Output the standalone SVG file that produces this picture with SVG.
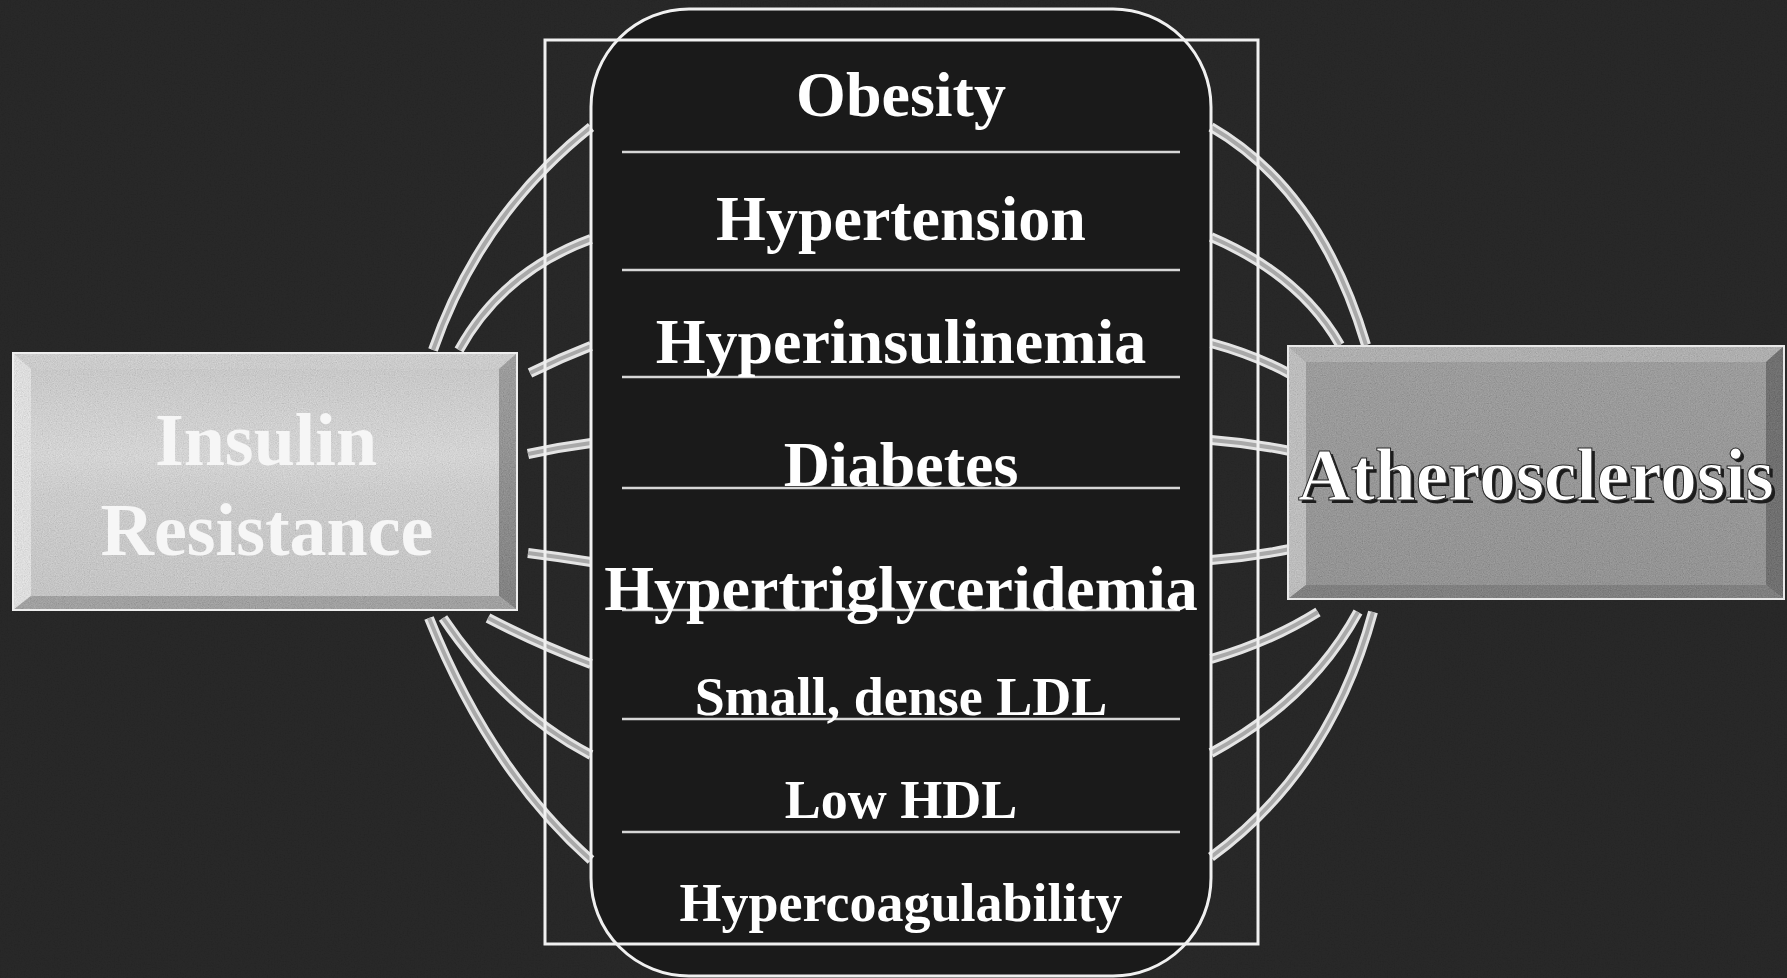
<svg xmlns="http://www.w3.org/2000/svg" width="1787" height="978" viewBox="0 0 1787 978">
<style>
.bg{fill:#1e1e1e}
.conn-o{fill:none;stroke:#e4e4e4;stroke-width:10;stroke-linecap:butt}
.conn-i{fill:none;stroke:#a9a9a9;stroke-width:4;stroke-linecap:butt}
.frame{fill:none;stroke:#f0f0f0;stroke-width:3}
.div{stroke:#d6d6d6;stroke-width:2.5}
.item{font-family:"Liberation Serif","Times New Roman",serif;font-weight:bold;fill:#ffffff;text-anchor:middle}
.big{font-size:64px}
.small{font-size:54px}
.lbl{font-family:"Liberation Serif","Times New Roman",serif;font-weight:bold;text-anchor:middle}
</style>
<defs>
<filter id="grain" x="0" y="0" width="100%" height="100%">
<feTurbulence type="fractalNoise" baseFrequency="0.85" numOctaves="2" seed="7" result="t"/>
<feColorMatrix in="t" type="matrix" values="0.33 0.33 0.33 0 0  0.33 0.33 0.33 0 0  0.33 0.33 0.33 0 0  0 0 0 0 0.4" result="n"/>
<feComposite in="n" in2="SourceGraphic" operator="in"/>
</filter>
<filter id="bggrain" x="0" y="0" width="100%" height="100%">
<feTurbulence type="fractalNoise" baseFrequency="0.7" numOctaves="2" seed="3" result="t"/>
<feColorMatrix in="t" type="matrix" values="0.33 0.33 0.33 0 0  0.33 0.33 0.33 0 0  0.33 0.33 0.33 0 0  0 0 0 0 0.06" result="n"/>
<feComposite in="n" in2="SourceGraphic" operator="in"/>
</filter>
<linearGradient id="leftFace" x1="0" y1="0" x2="0" y2="1">
<stop offset="0" stop-color="#cdcdcd"/>
<stop offset="0.4" stop-color="#e4e4e4"/>
<stop offset="0.55" stop-color="#d6d6d6"/>
<stop offset="1" stop-color="#c8c8c8"/>
</linearGradient>
<linearGradient id="leftRight" x1="0" y1="0" x2="0" y2="1">
<stop offset="0" stop-color="#8a8a8a"/>
<stop offset="1" stop-color="#5a5a5a"/>
</linearGradient>
<linearGradient id="rightFace" x1="0" y1="0" x2="0" y2="1">
<stop offset="0" stop-color="#888888"/>
<stop offset="1" stop-color="#787878"/>
</linearGradient>
</defs>

<rect class="bg" x="0" y="0" width="1787" height="978"/>
<rect x="0" y="0" width="1787" height="978" fill="#fff" filter="url(#bggrain)"/>

<g id="panel-fill">
<rect x="591" y="9" width="620" height="967" rx="98" ry="98" fill="#1a1a1a"/>
</g>

<g id="connectors">
<path class="conn-o" d="M433,350 Q480,215 591,127"/>
<path class="conn-o" d="M459,350 Q502,272 591,239"/>
<path class="conn-o" d="M530,373 Q560,358 591,346"/>
<path class="conn-o" d="M528,454 Q560,447 591,443"/>
<path class="conn-o" d="M528,553 Q560,557 591,562"/>
<path class="conn-o" d="M488,618 Q540,645 591,664"/>
<path class="conn-o" d="M443,618 Q505,710 591,755"/>
<path class="conn-o" d="M429,618 Q490,770 591,860"/>
<path class="conn-o" d="M1211,127 Q1320,190 1366,345"/>
<path class="conn-o" d="M1211,237 Q1300,275 1340,345"/>
<path class="conn-o" d="M1211,343 Q1255,355 1290,374"/>
<path class="conn-o" d="M1211,440 Q1250,443 1290,451"/>
<path class="conn-o" d="M1211,560 Q1250,557 1290,549"/>
<path class="conn-o" d="M1211,659 Q1270,642 1318,612"/>
<path class="conn-o" d="M1211,753 Q1310,700 1358,612"/>
<path class="conn-o" d="M1211,857 Q1330,770 1373,612"/>
<path class="conn-i" d="M433,350 Q480,215 591,127"/>
<path class="conn-i" d="M459,350 Q502,272 591,239"/>
<path class="conn-i" d="M530,373 Q560,358 591,346"/>
<path class="conn-i" d="M528,454 Q560,447 591,443"/>
<path class="conn-i" d="M528,553 Q560,557 591,562"/>
<path class="conn-i" d="M488,618 Q540,645 591,664"/>
<path class="conn-i" d="M443,618 Q505,710 591,755"/>
<path class="conn-i" d="M429,618 Q490,770 591,860"/>
<path class="conn-i" d="M1211,127 Q1320,190 1366,345"/>
<path class="conn-i" d="M1211,237 Q1300,275 1340,345"/>
<path class="conn-i" d="M1211,343 Q1255,355 1290,374"/>
<path class="conn-i" d="M1211,440 Q1250,443 1290,451"/>
<path class="conn-i" d="M1211,560 Q1250,557 1290,549"/>
<path class="conn-i" d="M1211,659 Q1270,642 1318,612"/>
<path class="conn-i" d="M1211,753 Q1310,700 1358,612"/>
<path class="conn-i" d="M1211,857 Q1330,770 1373,612"/>
</g>

<g id="outer-frame">
<rect class="frame" x="545" y="40" width="713" height="904" stroke-width="2.5"/>
</g>

<g id="risk-panel">
<rect class="frame" x="591" y="9" width="620" height="967" rx="98" ry="98"/>
<line class="div" x1="622" y1="152" x2="1180" y2="152"/>
<line class="div" x1="622" y1="270" x2="1180" y2="270"/>
<line class="div" x1="622" y1="377" x2="1180" y2="377"/>
<line class="div" x1="622" y1="488" x2="1180" y2="488"/>
<line class="div" x1="622" y1="610" x2="1180" y2="610"/>
<line class="div" x1="622" y1="719" x2="1180" y2="719"/>
<line class="div" x1="622" y1="832" x2="1180" y2="832"/>
<text class="item big" x="901" y="116">Obesity</text>
<text class="item big" x="901" y="240">Hypertension</text>
<text class="item big" x="901" y="363">Hyperinsulinemia</text>
<text class="item big" x="901" y="486">Diabetes</text>
<text class="item big" x="901" y="610">Hypertriglyceridemia</text>
<text class="item small" x="901" y="715">Small, dense LDL</text>
<text class="item small" x="901" y="818">Low HDL</text>
<text class="item small" x="901" y="921">Hypercoagulability</text>
</g>

<g id="insulin-resistance">
<rect x="13" y="353" width="504" height="257" fill="url(#leftFace)"/>
<polygon points="13,353 517,353 499,369 31,369" fill="#d6d6d6"/>
<polygon points="13,353 31,369 31,596 13,610" fill="#f4f4f4"/>
<polygon points="517,353 517,610 499,596 499,369" fill="url(#leftRight)"/>
<polygon points="13,610 31,596 499,596 517,610" fill="#8e8e8e"/>
<rect x="13" y="353" width="504" height="257" fill="#fff" filter="url(#grain)"/>
<rect x="13" y="353" width="504" height="257" fill="none" stroke="#eeeeee" stroke-width="2"/>
<text class="lbl" x="266" y="465" font-size="74" fill="#f6f6f6">Insulin</text>
<text class="lbl" x="267" y="555" font-size="74" fill="#f6f6f6">Resistance</text>
</g>

<g id="atherosclerosis">
<rect x="1288" y="346" width="496" height="253" fill="url(#rightFace)"/>
<polygon points="1288,346 1784,346 1766,362 1306,362" fill="#a6a6a6"/>
<polygon points="1288,346 1306,362 1306,585 1288,599" fill="#bdbdbd"/>
<polygon points="1784,346 1784,599 1766,585 1766,362" fill="#3e3e3e"/>
<polygon points="1288,599 1306,585 1766,585 1784,599" fill="#585858"/>
<rect x="1288" y="346" width="496" height="253" fill="#fff" filter="url(#grain)"/>
<rect x="1288" y="346" width="496" height="253" fill="none" stroke="#e8e8e8" stroke-width="2"/>
<text class="lbl" x="1539" y="503" font-size="73" fill="#1c1c1c">Atherosclerosis</text>
<text class="lbl" x="1536" y="500" font-size="73" fill="#ffffff" stroke="#2a2a2a" stroke-width="1">Atherosclerosis</text>
</g>
</svg>
